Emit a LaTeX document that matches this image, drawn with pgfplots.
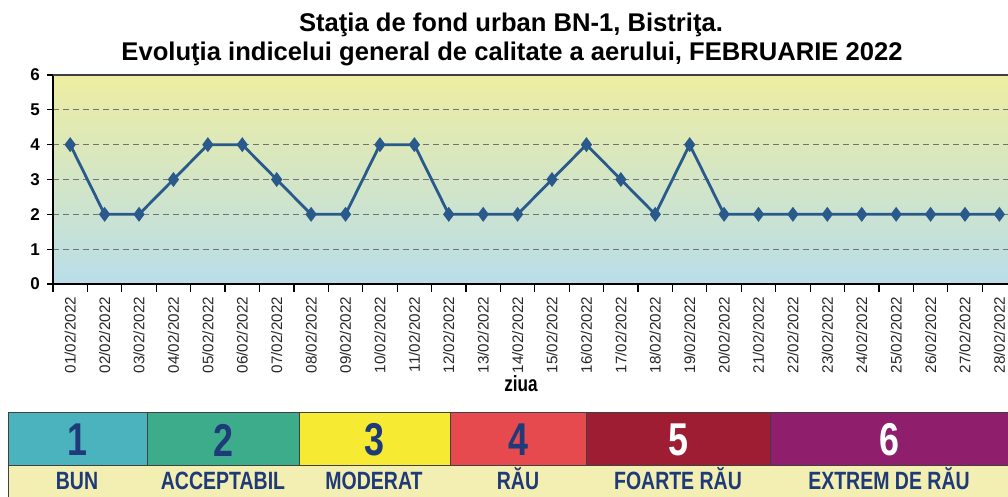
\documentclass[border=0pt]{standalone}
\usepackage{pgfplots}
\pgfplotsset{compat=1.18}
\usepackage{fontspec}
\setmainfont{Liberation Sans}
\newfontfamily\narrow[FakeStretch=0.78]{Liberation Sans}
\definecolor{lineblue}{HTML}{2A5A8C}
\definecolor{bgtop}{HTML}{EEEEA2}
\definecolor{bgmid}{HTML}{F2F6E6}
\definecolor{bgbot}{HTML}{B9DDE9}
\definecolor{cTeal}{HTML}{4AB3BE}
\definecolor{cGreen}{HTML}{3DAC8B}
\definecolor{cYellow}{HTML}{F7EA33}
\definecolor{cRed}{HTML}{E64A4E}
\definecolor{cDark}{HTML}{9E1D33}
\definecolor{cPurple}{HTML}{8F1F6C}
\definecolor{pale}{HTML}{F3EFB2}
\definecolor{navy}{HTML}{1E3A78}

\pgfplotstableread{
x y
0 4
1 2
2 2
3 3
4 4
5 4
6 3
7 2
8 2
9 4
10 4
11 2
12 2
13 2
14 3
15 4
16 3
17 2
18 4
19 2
20 2
21 2
22 2
23 2
24 2
25 2
26 2
27 2
}\aqi

\begin{document}
\begin{tikzpicture}
\useasboundingbox (0,0) rectangle (504pt,-248.5pt);
\begin{axis}[
  at={(26.5pt,-37.5pt)}, anchor=north west,
  scale only axis, width=477.5pt, height=104.5pt,
  xmin=-0.5, xmax=27.25, ymin=0, ymax=6,
  axis x line*=bottom, axis y line*=left,
  axis line style={black, line width=0.8pt},
  axis background/.style={shade, top color=bgtop, middle color=bgmid, bottom color=bgbot},
  xtick={0,...,27},
  xticklabels={01/02/2022,02/02/2022,03/02/2022,04/02/2022,05/02/2022,06/02/2022,07/02/2022,
    08/02/2022,09/02/2022,10/02/2022,11/02/2022,12/02/2022,13/02/2022,14/02/2022,
    15/02/2022,16/02/2022,17/02/2022,18/02/2022,19/02/2022,20/02/2022,21/02/2022,
    22/02/2022,23/02/2022,24/02/2022,25/02/2022,26/02/2022,27/02/2022,28/02/2022},
  minor xtick={-0.5,0.5,...,27},
  major x tick style={draw=none},
  minor x tick style={black, line width=0.6pt},
  ytick={0,...,6},
  y tick style={black, line width=0.6pt},
  tick align=outside, major tick length=3pt, minor tick length=4pt,
  /pgf/number format/assume math mode=true,
  xticklabel style={rotate=90, anchor=east, font=\fontsize{7.6}{8}\selectfont, color=black!85},
  yticklabel style={font=\bfseries\fontsize{8.5}{9}\selectfont},
  ymajorgrids, grid style={black!55, densely dashed, line width=0.4pt},
  clip=false]
\draw[black!75, line width=0.7pt] (rel axis cs:0,1) -- (rel axis cs:1,1);
\addplot[color=lineblue, line width=1.4pt, mark=diamond*, mark size=2.6pt] table[x=x,y=y] {\aqi};
\end{axis}
\begin{scope}[x=0.5pt,y=-0.5pt]
\node[font=\bfseries\fontsize{12.8}{14}\selectfont, anchor=base] at (511,32) {Staţia de fond urban BN-1, Bistriţa.};
\node[font=\bfseries\fontsize{12.8}{14}\selectfont, anchor=base] at (512,61) {Evoluţia indicelui general de calitate a aerului, FEBRUARIE 2022};
\node[font=\narrow\bfseries\fontsize{11}{12}\selectfont] at (521,384) {ziua};
\fill[pale] (8,466) rectangle (1010,497);
\fill[cTeal] (8,413) rectangle (147,466);
\fill[cGreen] (147,413) rectangle (299,466);
\fill[cYellow] (299,413) rectangle (450,466);
\fill[cRed] (450,413) rectangle (586,466);
\fill[cDark] (586,413) rectangle (770,466);
\fill[cPurple] (770,413) rectangle (1010,466);
\draw[black!75, line width=0.5pt] (8,497) -- (8,413) -- (1010,413);
\draw[black!75, line width=0.5pt] (8,466) -- (1010,466);
\foreach \xb in {147,299,450,586,770} \draw[black!75, line width=0.5pt] (\xb,413) -- (\xb,466);
\foreach \xc/\n/\c in {77/1/navy,223/2/navy,374/3/navy,518/4/navy,678/5/white,889/6/white}
  \node[font=\narrow\bfseries\fontsize{23}{24}\selectfont, text=\c] at (\xc,440) {\n};
\foreach \xc/\t in {77/BUN,223/ACCEPTABIL,374/MODERAT,518/RĂU,678/FOARTE RĂU,889/EXTREM DE RĂU}
  \node[font=\narrow\bfseries\fontsize{12.5}{13}\selectfont, text=navy, anchor=base] at (\xc,490) {\t};
\end{scope}
\end{tikzpicture}
\end{document}
